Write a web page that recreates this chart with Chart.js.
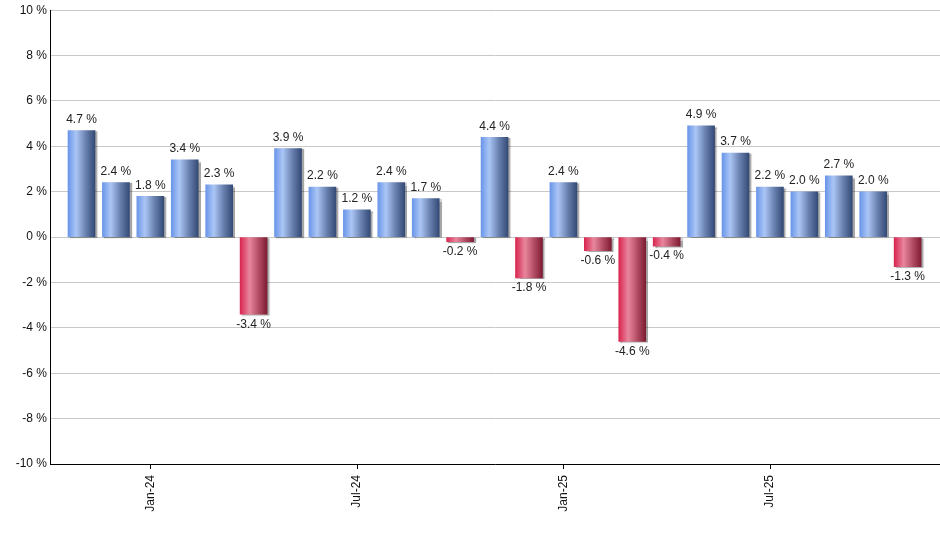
<!DOCTYPE html>
<html>
<head>
<meta charset="utf-8">
<script src="https://cdn.jsdelivr.net/npm/chart.js@4.4.1/dist/chart.umd.min.js"></script>
<style>
  html, body { margin: 0; padding: 0; background: #fff; }
  #wrap { width: 940px; height: 550px; }
</style>
</head>
<body>
<div id="wrap"><canvas id="chart" width="940" height="550"></canvas></div>
<script>
// monthly returns, Nov-23 .. Nov-25
const months = ['Nov-23', 'Dec-23', 'Jan-24', 'Feb-24', 'Mar-24', 'Apr-24', 'May-24', 'Jun-24', 'Jul-24',
    'Aug-24', 'Sep-24', 'Oct-24', 'Nov-24', 'Dec-24', 'Jan-25', 'Feb-25', 'Mar-25', 'Apr-25', 'May-25',
    'Jun-25', 'Jul-25', 'Aug-25', 'Sep-25', 'Oct-25', 'Nov-25'];
const returns = [4.7, 2.4, 1.8, 3.4, 2.3, -3.4, 3.9, 2.2, 1.2, 2.4, 1.7, -0.2, 4.4, -1.8, 2.4, -0.6,
    -4.6, -0.4, 4.9, 3.7, 2.2, 2.0, 2.7, 2.0, -1.3];
const shownMonths = ['Jan-24', 'Jul-24', 'Jan-25', 'Jul-25'];
const yTicks = [-10, -8, -6, -4, -2, 0, 2, 4, 6, 8, 10];

const points = returns.map((v, i) => ({ x: i, y: v }));
const BAR_W = 27;

// gradient fill per bar (light on the left, dark on the right)
const barGradients = {
    id: 'barGradients',
    beforeDatasetsDraw(chart) {
        const ctx = chart.ctx;
        chart.getDatasetMeta(0).data.forEach((el, i) => {
            const x0 = el.x - el.width / 2, x1 = el.x + el.width / 2;
            const g = ctx.createLinearGradient(x0, 0, x1, 0);
            if (returns[i] >= 0) {
                g.addColorStop(0, '#6a96e8');
                g.addColorStop(0.3, '#abc6f6');
                g.addColorStop(0.65, '#6a82b0');
                g.addColorStop(1, '#344a76');
            } else {
                g.addColorStop(0, '#d92650');
                g.addColorStop(0.35, '#e8869e');
                g.addColorStop(0.7, '#b04a62');
                g.addColorStop(1, '#7e1c34');
            }
            // options object is shared between bars, so give each its own copy
            el.options = Object.assign({}, el.options, { backgroundColor: g });
        });
    },
    beforeDatasetDraw(chart) {
        const ctx = chart.ctx;
        ctx.save();
        ctx.shadowColor = 'rgba(0,0,0,0.35)';
        ctx.shadowOffsetX = 2;
        ctx.shadowOffsetY = 1;
        ctx.shadowBlur = 1;
    },
    afterDatasetDraw(chart) {
        chart.ctx.restore();
    }
};

// value labels above / below bars + small tick marks under the x axis
const valueLabels = {
    id: 'valueLabels',
    afterDatasetsDraw(chart) {
        const ctx = chart.ctx;
        ctx.save();
        ctx.font = '12px "Liberation Sans", Arial, sans-serif';
        ctx.fillStyle = '#222';
        ctx.textAlign = 'center';
        chart.getDatasetMeta(0).data.forEach((el, i) => {
            const v = returns[i];
            const txt = v.toFixed(1) + ' %';
            if (v >= 0) {
                ctx.textBaseline = 'bottom';
                ctx.fillText(txt, el.x, el.y - 5);
            } else {
                ctx.textBaseline = 'top';
                ctx.fillText(txt, el.x, el.y + 4);
            }
        });
        ctx.restore();
    },
    afterDraw(chart) {
        const ctx = chart.ctx;
        const xs = chart.scales.x;
        const y0 = chart.chartArea.bottom;
        ctx.save();
        ctx.strokeStyle = '#000';
        ctx.lineWidth = 1;
        shownMonths.forEach(m => {
            const px = Math.round(xs.getPixelForValue(months.indexOf(m))) + 0.5;
            ctx.beginPath();
            ctx.moveTo(px, y0);
            ctx.lineTo(px, y0 + 5);
            ctx.stroke();
        });
        ctx.restore();
    }
};

new Chart(document.getElementById('chart'), {
    type: 'bar',
    data: {
        datasets: [{
            data: points,
            backgroundColor: '#6a96e8',
            borderWidth: 0,
            barThickness: BAR_W
        }]
    },
    options: {
        responsive: false,
        animation: false,
        layout: { padding: { top: 9, right: 0, left: 0, bottom: 0 } },
        plugins: {
            legend: { display: false },
            tooltip: { enabled: false }
        },
        scales: {
            x: {
                type: 'linear',
                offset: false,
                min: -0.915,
                max: 24.94,
                afterBuildTicks(axis) {
                    axis.ticks = shownMonths.map(m => ({ value: months.indexOf(m) }));
                },
                afterFit(axis) { axis.height = 86; },
                ticks: {
                    autoSkip: false,
                    minRotation: 90,
                    maxRotation: 90,
                    padding: 3,
                    color: '#111',
                    font: { family: '"Liberation Sans", Arial, sans-serif', size: 12 },
                    callback: (v) => months[v]
                },
                grid: { display: false },
                border: { display: true, color: '#000', width: 1 }
            },
            y: {
                min: -10,
                max: 10,
                afterBuildTicks(axis) {
                    axis.ticks = yTicks.map(v => ({ value: v }));
                },
                afterFit(axis) { axis.width = 50; },
                ticks: {
                    padding: 3,
                    color: '#111',
                    font: { family: '"Liberation Sans", Arial, sans-serif', size: 12 },
                    callback: (v) => v + ' %'
                },
                grid: {
                    color: '#c8c8c8',
                    drawTicks: false
                },
                border: { color: '#000', width: 1 }
            }
        }
    },
    plugins: [barGradients, valueLabels]
});
</script>
</body>
</html>
